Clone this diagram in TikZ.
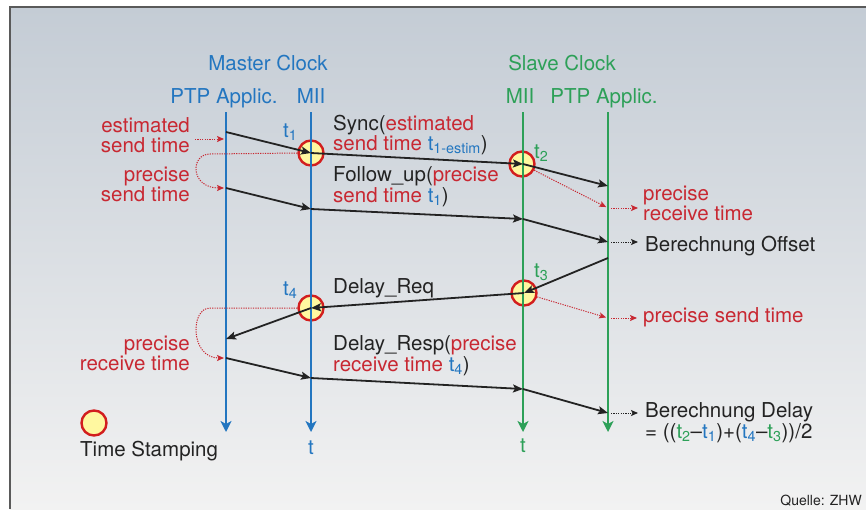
\documentclass[tikz,border=0pt]{standalone}
\usepackage{fontspec}
\setmainfont{TeX Gyre Heros}
\usetikzlibrary{arrows.meta}
\definecolor{mblue}{RGB}{35,118,192}
\definecolor{sgreen}{RGB}{45,160,88}
\definecolor{tred}{RGB}{200,40,50}
\definecolor{tsfill}{RGB}{255,248,160}
\definecolor{tsred}{RGB}{210,30,30}
\definecolor{txt}{RGB}{35,35,35}
\definecolor{bgtop}{RGB}{196,204,213}
\definecolor{bgbot}{RGB}{242,242,242}
\definecolor{framec}{RGB}{90,90,90}
\begin{document}
\begin{tikzpicture}[x=1pt,y=-1pt,
 every node/.style={font=\fontsize{20.5}{19}\selectfont, inner sep=0pt, text=txt},
 lbl/.style={anchor=base west},
 lblr/.style={anchor=base east},
 hdr/.style={anchor=base},
 timeline/.style={line width=2.4pt, -{Stealth[length=11pt,width=11pt,inset=3pt]}},
 msg/.style={draw=txt, line width=1.8pt, -{Stealth[length=10pt,width=8pt,inset=2pt]}},
 stamp/.style={circle, draw=tsred, fill=tsfill, line width=2.4pt, minimum size=25pt},
 rdot/.style={draw=tred, line width=1pt, dash pattern=on 1.2pt off 1.2pt, -{Stealth[length=7pt,width=6pt,inset=1.5pt]}},
 kdot/.style={draw=txt, line width=1pt, dash pattern=on 1.2pt off 1.2pt, -{Stealth[length=7pt,width=6pt,inset=1.5pt]}}
]
% background and frame
\useasboundingbox (0,0) rectangle (866,509);
\fill[white] (0,0) rectangle (866,509);
\shade[top color=bgtop, bottom color=bgbot] (10,7) rectangle (866,509);
\draw[line width=1.2pt, draw=framec] (10,509) -- (10,7) -- (866,7);

% timeline end points
\coordinate (mpT) at (226,112); \coordinate (mpB) at (226,432);
\coordinate (mmT) at (311,112); \coordinate (mmB) at (311,432);
\coordinate (smT) at (523,112); \coordinate (smB) at (523,432);
\coordinate (spT) at (608,112); \coordinate (spB) at (608,432);

% message points
\coordinate (mp1) at (226,132); \coordinate (mm1) at (311,153); \coordinate (sm1) at (523,164); \coordinate (sp1) at (608,186);
\coordinate (mp2) at (226,188); \coordinate (mm2) at (311,209); \coordinate (sm2) at (523,219); \coordinate (sp2) at (608,242);
\coordinate (sp3) at (608,258); \coordinate (sm3) at (524,293); \coordinate (mm3) at (311,308); \coordinate (mp3) at (226,339);
\coordinate (mp4) at (226,358); \coordinate (mm4) at (311,378); \coordinate (sm4) at (523,389); \coordinate (sp4) at (608,413);
\coordinate (mpE) at (226,139);
\coordinate (spR) at (608,208); \coordinate (spS) at (608,318);

% time stamps
\node[stamp] (ts1) at (311,153) {};
\node[stamp] (ts2) at (522,164) {};
\node[stamp] (ts3) at (524,293) {};
\node[stamp] (ts4) at (311,308) {};
\node[stamp] (tsL) at (94,423) {};

% timelines
\draw[timeline, draw=mblue] (mpT) -- (mpB);
\draw[timeline, draw=mblue] (mmT) -- (mmB);
\draw[timeline, draw=sgreen] (smT) -- (smB);
\draw[timeline, draw=sgreen] (spT) -- (spB);

% headers
\node[hdr, text=mblue] (mcH) at (268,70) {Master Clock};
\node[hdr, text=mblue] (mpH) at (224,103) {PTP Applic.};
\node[hdr, text=mblue] (mmH) at (311,103) {MII};
\node[hdr, text=sgreen] (scH) at (562,70) {Slave Clock};
\node[hdr, text=sgreen] (smH) at (520,103) {MII};
\node[hdr, text=sgreen] (spH) at (604,103) {PTP Applic.};

% messages
\draw[msg] (mp1) -- (mm1);
\draw[msg] (mm1) -- (sm1);
\draw[msg] (sm1) -- (sp1);
\draw[msg] (mp2) -- (mm2);
\draw[msg] (mm2) -- (sm2);
\draw[msg] (sm2) -- (sp2);
\draw[msg] (sp3) -- (sm3);
\draw[msg] (sm3) -- (mm3);
\draw[msg] (mm3) -- (mp3);
\draw[msg] (mp4) -- (mm4);
\draw[msg] (mm4) -- (sm4);
\draw[msg] (sm4) -- (sp4);

% left labels
\node[lblr, text=tred] (estA) at (190,132) {estimated};
\node[lblr, text=tred] (estB) at (190,152) {send time};
\node[lblr, text=tred] (preA) at (190,181) {precise};
\node[lblr, text=tred] (preB) at (190,201) {send time};
\node[lblr, text=tred] (prrA) at (190,350) {precise};
\node[lblr, text=tred] (prrB) at (190,370) {receive time};

% message labels
\node[lbl] (syncA) at (333,130) {Sync(\textcolor{tred}{estimated}};
\node[lbl] (syncB) at (333,150) {\textcolor{tred}{send time} \textcolor{mblue}{t\textsubscript{1-estim}})};
\node[lbl] (folA) at (333,181) {Follow\_up(\textcolor{tred}{precise}};
\node[lbl] (folB) at (333,202) {\textcolor{tred}{send time} \textcolor{mblue}{t\textsubscript{1}})};
\node[lbl] (dreq) at (333,293) {Delay\_Req};
\node[lbl] (drsA) at (333,350) {Delay\_Resp(\textcolor{tred}{precise}};
\node[lbl] (drsB) at (333,371) {\textcolor{tred}{receive time} \textcolor{mblue}{t\textsubscript{4}})};

% time labels
\node[lbl, text=mblue] (t1L) at (283,137) {t\textsubscript{1}};
\node[lbl, text=sgreen] (t2L) at (534,158) {t\textsubscript{2}};
\node[lbl, text=sgreen] (t3L) at (534,277) {t\textsubscript{3}};
\node[lbl, text=mblue] (t4L) at (283,295) {t\textsubscript{4}};

% right labels
\node[lbl, text=tred] (rcvA) at (643,200) {precise};
\node[lbl, text=tred] (rcvB) at (643,220) {receive time};
\node[lbl] (offL) at (645,251) {Berechnung Offset};
\node[lbl, text=tred] (sndL) at (643,322) {precise send time};
\node[lbl] (dlyA) at (645,417) {Berechnung Delay};
\node[lbl] (dlyB) at (645,438) {= ((\textcolor{sgreen}{t\textsubscript{2}}–\textcolor{mblue}{t\textsubscript{1}})+(\textcolor{mblue}{t\textsubscript{4}}–\textcolor{sgreen}{t\textsubscript{3}}))/2};

\coordinate (estE) at (195,139);
\coordinate (rcvE) at (638,208);
\coordinate (offE) at (638,242);
\coordinate (sndE) at (637,318);
\coordinate (dlyE) at (638,413);

% dotted arrows
\draw[rdot, shorten >=2pt] (estE) -- (mpE);
\draw[rdot, shorten >=2pt] (ts1.west) -- (210,154) .. controls (190,154) and (190,188) .. (mp2);
\draw[rdot, shorten >=2pt] (ts2) -- (spR);
\draw[rdot, shorten <=3pt] (spR) -- (rcvE);
\draw[kdot, shorten <=3pt] (sp2) -- (offE);
\draw[rdot, shorten >=2pt] (ts3) -- (spS);
\draw[rdot, shorten <=3pt] (spS) -- (sndE);
\draw[rdot, shorten >=2pt] (ts4.west) -- (210,308) .. controls (190,308) and (190,358) .. (mp4);
\draw[kdot, shorten <=3pt] (sp4) -- (dlyE);

% bottom labels
\node[hdr, text=mblue] (tM) at (311,454) {t};
\node[hdr, text=sgreen] (tS) at (523,452) {t};
\node[lbl] (tsTxt) at (80,456) {Time Stamping};
\node[anchor=base east, font=\fontsize{14}{16}\selectfont] (src) at (862,505) {Quelle: ZHW};
\end{tikzpicture}
\end{document}
